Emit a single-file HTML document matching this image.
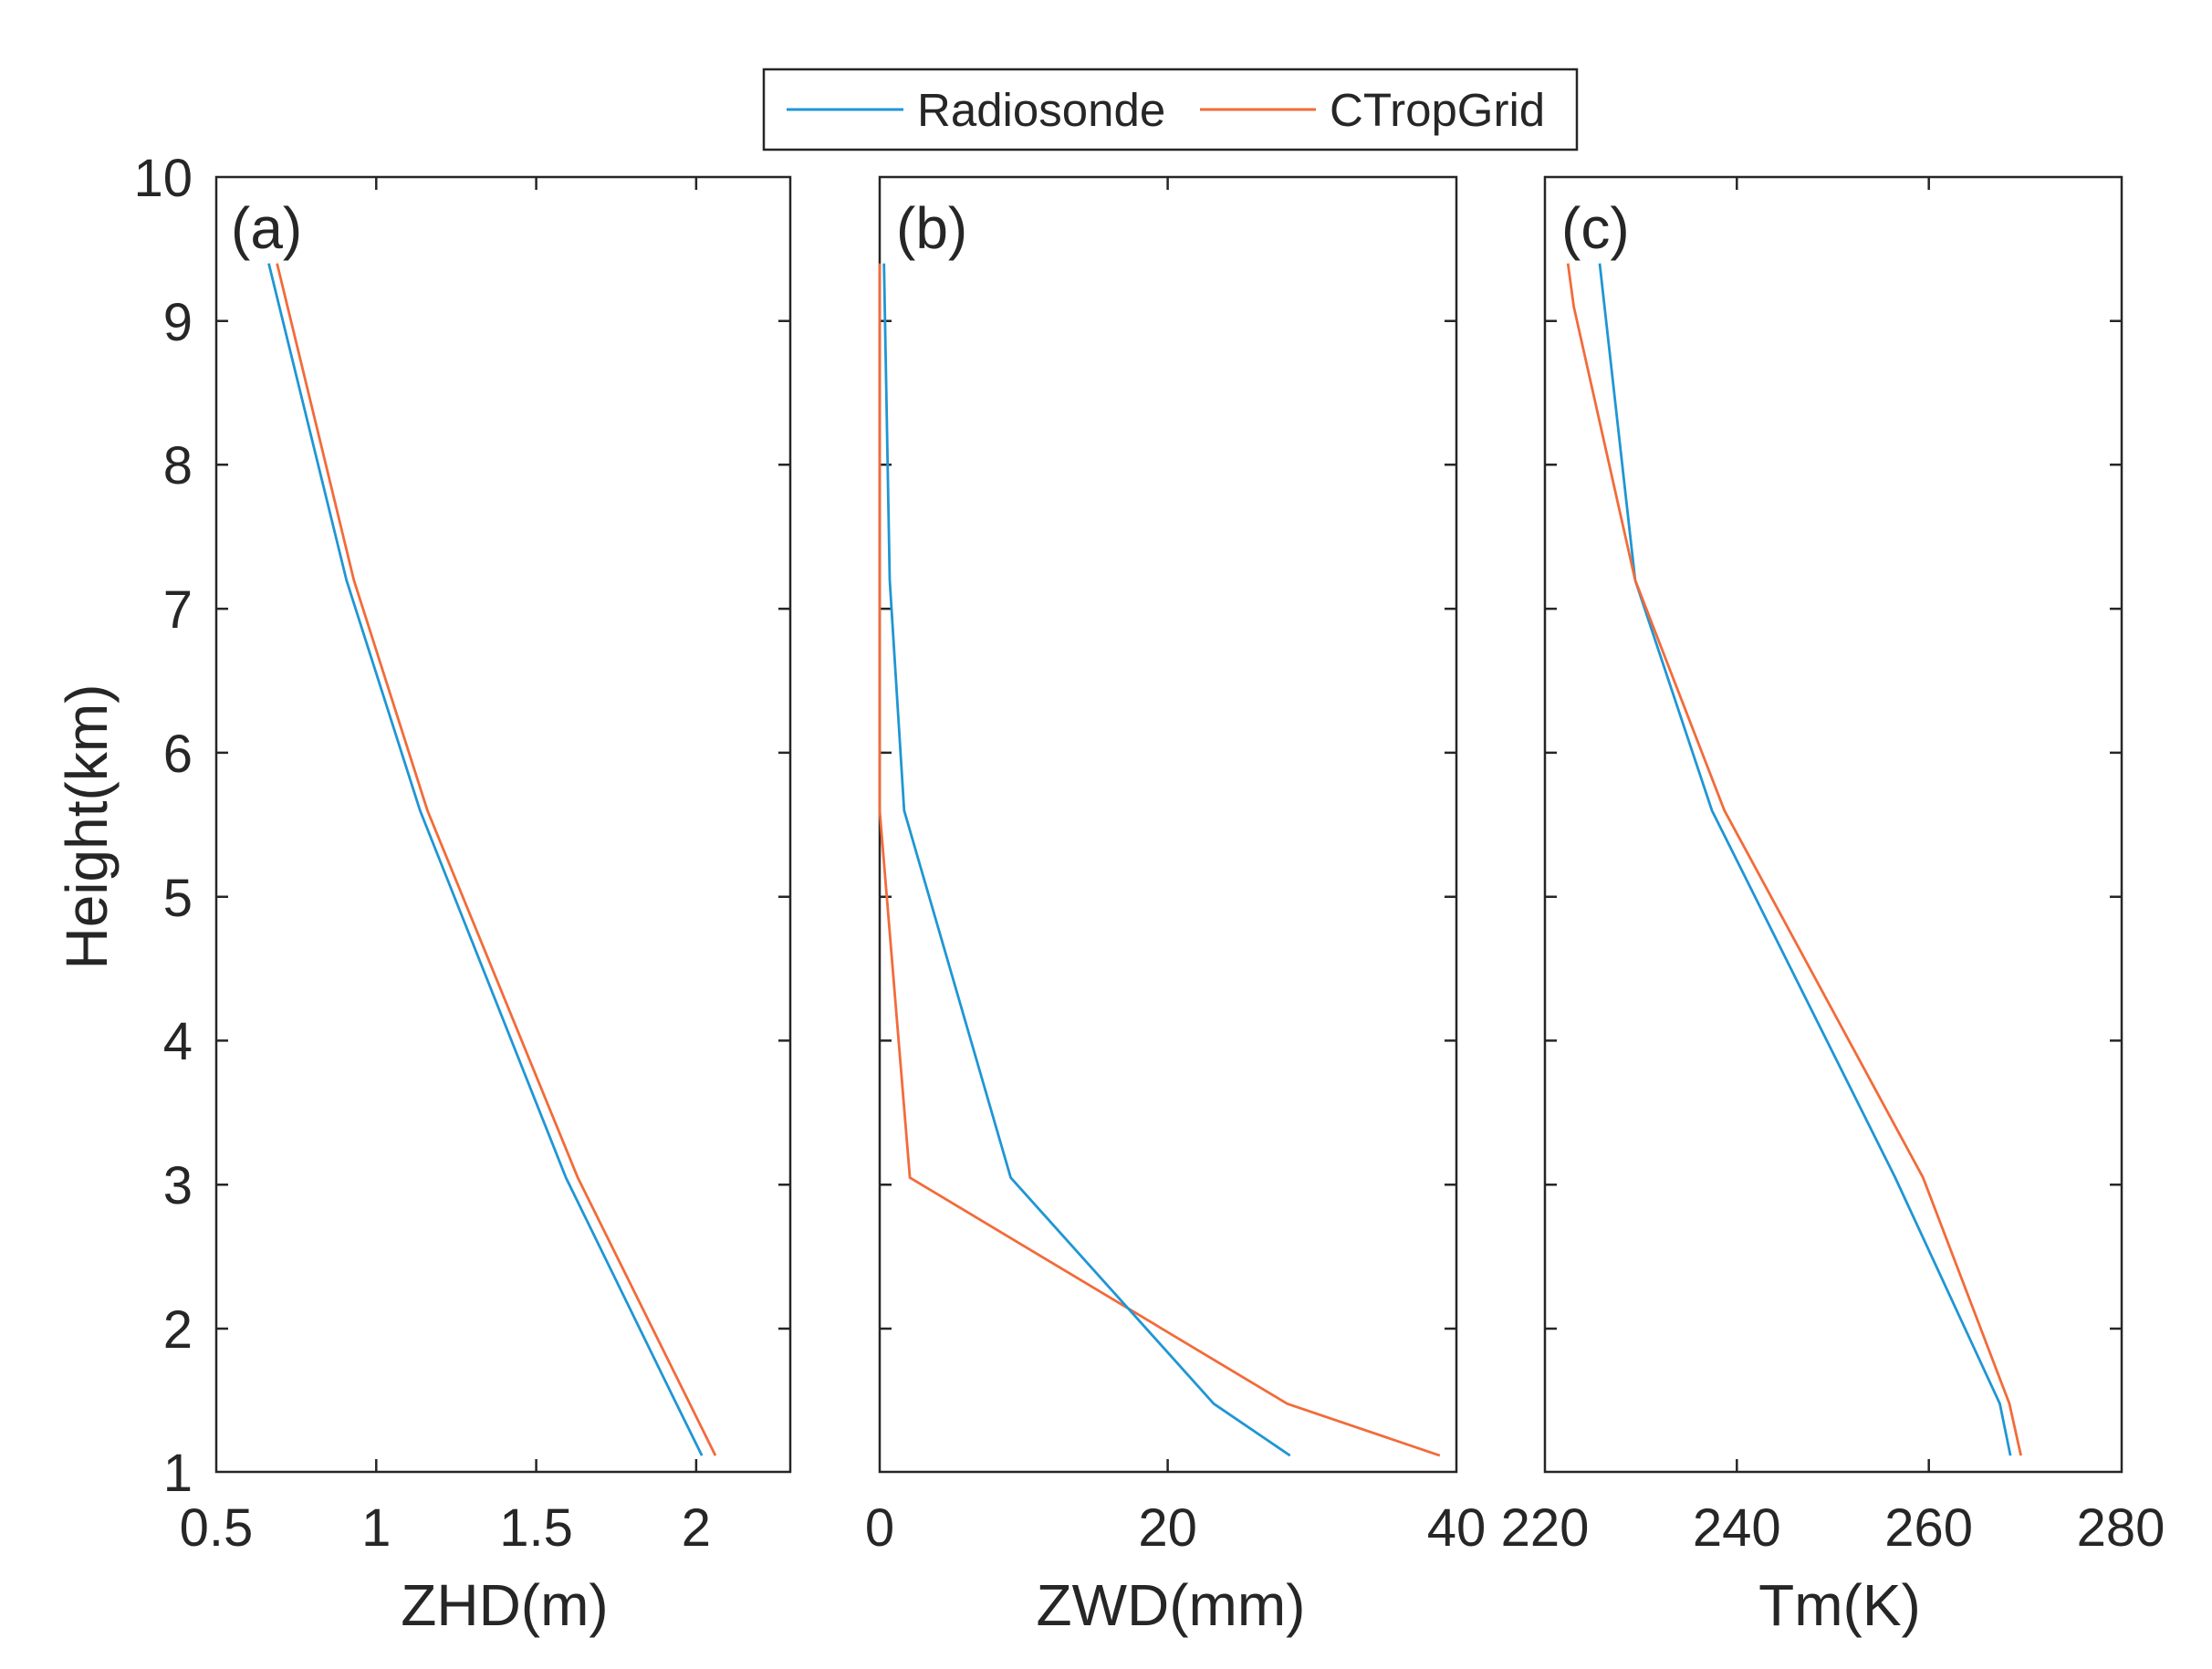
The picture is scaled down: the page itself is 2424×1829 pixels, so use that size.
<!DOCTYPE html>
<html><head><meta charset="utf-8"><style>html,body{margin:0;padding:0;background:#fff}svg{display:block}</style></head>
<body>
<svg width="2424" height="1829" viewBox="0 0 2424 1829" xmlns="http://www.w3.org/2000/svg" font-family="Liberation Sans, Arial, sans-serif" fill="#262626">
<rect width="2424" height="1829" fill="#fff"/>
<!-- Legend -->
<rect x="837" y="76" width="891" height="88" fill="#fff" stroke="#262626" stroke-width="2.5"/>
<line x1="862" y1="120" x2="990" y2="120" stroke="#1f96d4" stroke-width="3"/>
<text x="1005" y="138" font-size="51">Radiosonde</text>
<line x1="1315" y1="120" x2="1442" y2="120" stroke="#f26b3a" stroke-width="3"/>
<text x="1457" y="138" font-size="51">CTropGrid</text>

<g stroke="#262626" stroke-width="2.5" fill="none">
<rect x="237" y="194" width="629" height="1419"/>
<rect x="964" y="194" width="632" height="1419"/>
<rect x="1693" y="194" width="632" height="1419"/>
<path d="M237 351.8h13M237 509.3h13M237 667.1h13M237 824.9h13M237 982.7h13M237 1140.4h13M237 1298.2h13M237 1456h13
M866 351.8h-13M866 509.3h-13M866 667.1h-13M866 824.9h-13M866 982.7h-13M866 1140.4h-13M866 1298.2h-13M866 1456h-13
M964 351.8h13M964 509.3h13M964 667.1h13M964 824.9h13M964 982.7h13M964 1140.4h13M964 1298.2h13M964 1456h13
M1596 351.8h-13M1596 509.3h-13M1596 667.1h-13M1596 824.9h-13M1596 982.7h-13M1596 1140.4h-13M1596 1298.2h-13M1596 1456h-13
M1693 351.8h13M1693 509.3h13M1693 667.1h13M1693 824.9h13M1693 982.7h13M1693 1140.4h13M1693 1298.2h13M1693 1456h13
M2325 351.8h-13M2325 509.3h-13M2325 667.1h-13M2325 824.9h-13M2325 982.7h-13M2325 1140.4h-13M2325 1298.2h-13M2325 1456h-13"/>
<path d="M412.3 1613v-14M587.6 1613v-14M762.9 1613v-14M412.3 194v14M587.6 194v14M762.9 194v14
M1279.6 1613v-14M1279.6 194v14
M1903.3 1613v-14M2113.7 1613v-14M1903.3 194v14M2113.7 194v14"/>
</g>

<g fill="none" stroke-width="2.8" stroke-linejoin="round">
<polyline stroke="#1f96d4" points="294.5,288.7 379.7,635.8 460.3,888.2 620.2,1290.6 741.2,1538.3 769.2,1595.1"/>
<polyline stroke="#f26b3a" points="303.6,288.7 387.8,635.8 468.4,888.2 633.2,1290.6 755.9,1538.3 784,1595.1"/>
<polyline stroke="#f26b3a" points="964,288.7 964,635.8 964,888.2 997.1,1290.6 1410.6,1538.3 1577.8,1595.1"/>
<polyline stroke="#1f96d4" points="968.7,288.7 975,635.8 990.8,888.2 1107.6,1290.6 1330.1,1538.3 1413.7,1595.1"/>
<polyline stroke="#1f96d4" points="1753,288.7 1791.9,635.8 1876,888.2 2076.9,1290.6 2191.5,1538.3 2203.1,1595.1"/>
<polyline stroke="#f26b3a" points="1718.2,288.7 1724.6,336 1791.9,635.8 1889.7,888.2 2107.4,1290.6 2202,1538.3 2214.6,1595.1"/>
</g>

<g font-size="58" text-anchor="end">
<text x="211" y="215">10</text>
<text x="211" y="373">9</text>
<text x="211" y="530">8</text>
<text x="211" y="688">7</text>
<text x="211" y="846">6</text>
<text x="211" y="1004">5</text>
<text x="211" y="1161">4</text>
<text x="211" y="1319">3</text>
<text x="211" y="1477">2</text>
<text x="211" y="1634">1</text>
</g>
<g font-size="58" text-anchor="middle">
<text x="237" y="1694">0.5</text>
<text x="412.3" y="1694">1</text>
<text x="587.6" y="1694">1.5</text>
<text x="762.9" y="1694">2</text>
<text x="964" y="1694">0</text>
<text x="1279.6" y="1694">20</text>
<text x="1596" y="1694">40</text>
<text x="1693" y="1694">220</text>
<text x="1903.3" y="1694">240</text>
<text x="2113.7" y="1694">260</text>
<text x="2324" y="1694">280</text>
</g>
<g font-size="64" text-anchor="middle">
<text x="553" y="1781">ZHD(m)</text>
<text x="1283" y="1781">ZWD(mm)</text>
<text x="2016" y="1781">Tm(K)</text>
<text transform="translate(117,906) rotate(-90)">Height(km)</text>
</g>
<g font-size="64">
<text x="253" y="272">(a)</text>
<text x="982" y="272">(b)</text>
<text x="1711" y="272">(c)</text>
</g>
</svg>
</body></html>
